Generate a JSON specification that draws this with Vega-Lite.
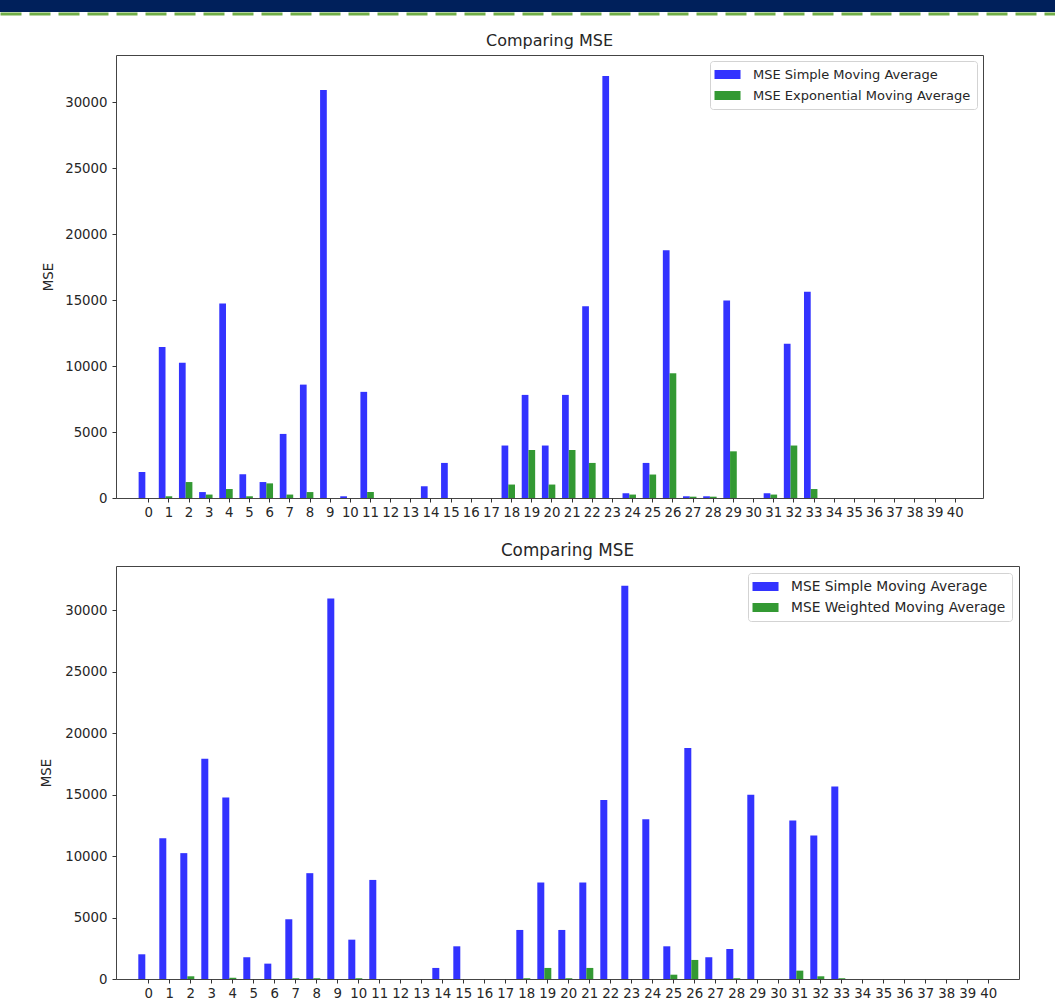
{
  "$schema": "https://vega.github.io/schema/vega-lite/v6.json",
  "padding": 0,
  "background": "white",
  "datasets": {
    "top": [
      {"t":0,"s":"MSE Simple Moving Average","v":1970},{"t":0,"s":"MSE Exponential Moving Average","v":0},
      {"t":1,"s":"MSE Simple Moving Average","v":11450},{"t":1,"s":"MSE Exponential Moving Average","v":130},
      {"t":2,"s":"MSE Simple Moving Average","v":10250},{"t":2,"s":"MSE Exponential Moving Average","v":1210},
      {"t":3,"s":"MSE Simple Moving Average","v":450},{"t":3,"s":"MSE Exponential Moving Average","v":260},
      {"t":4,"s":"MSE Simple Moving Average","v":14750},{"t":4,"s":"MSE Exponential Moving Average","v":680},
      {"t":5,"s":"MSE Simple Moving Average","v":1800},{"t":5,"s":"MSE Exponential Moving Average","v":130},
      {"t":6,"s":"MSE Simple Moving Average","v":1210},{"t":6,"s":"MSE Exponential Moving Average","v":1110},
      {"t":7,"s":"MSE Simple Moving Average","v":4860},{"t":7,"s":"MSE Exponential Moving Average","v":260},
      {"t":8,"s":"MSE Simple Moving Average","v":8600},{"t":8,"s":"MSE Exponential Moving Average","v":450},
      {"t":9,"s":"MSE Simple Moving Average","v":30950},{"t":9,"s":"MSE Exponential Moving Average","v":0},
      {"t":10,"s":"MSE Simple Moving Average","v":130},{"t":10,"s":"MSE Exponential Moving Average","v":0},
      {"t":11,"s":"MSE Simple Moving Average","v":8050},{"t":11,"s":"MSE Exponential Moving Average","v":450},
      {"t":12,"s":"MSE Simple Moving Average","v":0},{"t":12,"s":"MSE Exponential Moving Average","v":0},
      {"t":13,"s":"MSE Simple Moving Average","v":0},{"t":13,"s":"MSE Exponential Moving Average","v":0},
      {"t":14,"s":"MSE Simple Moving Average","v":890},{"t":14,"s":"MSE Exponential Moving Average","v":0},
      {"t":15,"s":"MSE Simple Moving Average","v":2660},{"t":15,"s":"MSE Exponential Moving Average","v":0},
      {"t":16,"s":"MSE Simple Moving Average","v":0},{"t":16,"s":"MSE Exponential Moving Average","v":0},
      {"t":17,"s":"MSE Simple Moving Average","v":0},{"t":17,"s":"MSE Exponential Moving Average","v":0},
      {"t":18,"s":"MSE Simple Moving Average","v":3980},{"t":18,"s":"MSE Exponential Moving Average","v":1020},
      {"t":19,"s":"MSE Simple Moving Average","v":7820},{"t":19,"s":"MSE Exponential Moving Average","v":3640},
      {"t":20,"s":"MSE Simple Moving Average","v":3980},{"t":20,"s":"MSE Exponential Moving Average","v":1020},
      {"t":21,"s":"MSE Simple Moving Average","v":7820},{"t":21,"s":"MSE Exponential Moving Average","v":3640},
      {"t":22,"s":"MSE Simple Moving Average","v":14550},{"t":22,"s":"MSE Exponential Moving Average","v":2660},
      {"t":23,"s":"MSE Simple Moving Average","v":32000},{"t":23,"s":"MSE Exponential Moving Average","v":0},
      {"t":24,"s":"MSE Simple Moving Average","v":360},{"t":24,"s":"MSE Exponential Moving Average","v":260},
      {"t":25,"s":"MSE Simple Moving Average","v":2660},{"t":25,"s":"MSE Exponential Moving Average","v":1780},
      {"t":26,"s":"MSE Simple Moving Average","v":18800},{"t":26,"s":"MSE Exponential Moving Average","v":9460},
      {"t":27,"s":"MSE Simple Moving Average","v":130},{"t":27,"s":"MSE Exponential Moving Average","v":100},
      {"t":28,"s":"MSE Simple Moving Average","v":130},{"t":28,"s":"MSE Exponential Moving Average","v":100},
      {"t":29,"s":"MSE Simple Moving Average","v":14980},{"t":29,"s":"MSE Exponential Moving Average","v":3540},
      {"t":30,"s":"MSE Simple Moving Average","v":0},{"t":30,"s":"MSE Exponential Moving Average","v":0},
      {"t":31,"s":"MSE Simple Moving Average","v":360},{"t":31,"s":"MSE Exponential Moving Average","v":260},
      {"t":32,"s":"MSE Simple Moving Average","v":11690},{"t":32,"s":"MSE Exponential Moving Average","v":3980},
      {"t":33,"s":"MSE Simple Moving Average","v":15640},{"t":33,"s":"MSE Exponential Moving Average","v":680},
      {"t":34,"s":"MSE Simple Moving Average","v":0},{"t":34,"s":"MSE Exponential Moving Average","v":0},
      {"t":35,"s":"MSE Simple Moving Average","v":0},{"t":35,"s":"MSE Exponential Moving Average","v":0},
      {"t":36,"s":"MSE Simple Moving Average","v":0},{"t":36,"s":"MSE Exponential Moving Average","v":0},
      {"t":37,"s":"MSE Simple Moving Average","v":0},{"t":37,"s":"MSE Exponential Moving Average","v":0},
      {"t":38,"s":"MSE Simple Moving Average","v":0},{"t":38,"s":"MSE Exponential Moving Average","v":0},
      {"t":39,"s":"MSE Simple Moving Average","v":0},{"t":39,"s":"MSE Exponential Moving Average","v":0},
      {"t":40,"s":"MSE Simple Moving Average","v":0},{"t":40,"s":"MSE Exponential Moving Average","v":0}
    ],
    "bottom": [
      {"t":0,"s":"MSE Simple Moving Average","v":2010},{"t":0,"s":"MSE Weighted Moving Average","v":0},
      {"t":1,"s":"MSE Simple Moving Average","v":11460},{"t":1,"s":"MSE Weighted Moving Average","v":0},
      {"t":2,"s":"MSE Simple Moving Average","v":10240},{"t":2,"s":"MSE Weighted Moving Average","v":220},
      {"t":3,"s":"MSE Simple Moving Average","v":17920},{"t":3,"s":"MSE Weighted Moving Average","v":0},
      {"t":4,"s":"MSE Simple Moving Average","v":14770},{"t":4,"s":"MSE Weighted Moving Average","v":100},
      {"t":5,"s":"MSE Simple Moving Average","v":1770},{"t":5,"s":"MSE Weighted Moving Average","v":0},
      {"t":6,"s":"MSE Simple Moving Average","v":1250},{"t":6,"s":"MSE Weighted Moving Average","v":0},
      {"t":7,"s":"MSE Simple Moving Average","v":4860},{"t":7,"s":"MSE Weighted Moving Average","v":60},
      {"t":8,"s":"MSE Simple Moving Average","v":8610},{"t":8,"s":"MSE Weighted Moving Average","v":60},
      {"t":9,"s":"MSE Simple Moving Average","v":30950},{"t":9,"s":"MSE Weighted Moving Average","v":0},
      {"t":10,"s":"MSE Simple Moving Average","v":3200},{"t":10,"s":"MSE Weighted Moving Average","v":60},
      {"t":11,"s":"MSE Simple Moving Average","v":8060},{"t":11,"s":"MSE Weighted Moving Average","v":0},
      {"t":12,"s":"MSE Simple Moving Average","v":0},{"t":12,"s":"MSE Weighted Moving Average","v":0},
      {"t":13,"s":"MSE Simple Moving Average","v":0},{"t":13,"s":"MSE Weighted Moving Average","v":0},
      {"t":14,"s":"MSE Simple Moving Average","v":900},{"t":14,"s":"MSE Weighted Moving Average","v":0},
      {"t":15,"s":"MSE Simple Moving Average","v":2660},{"t":15,"s":"MSE Weighted Moving Average","v":0},
      {"t":16,"s":"MSE Simple Moving Average","v":0},{"t":16,"s":"MSE Weighted Moving Average","v":0},
      {"t":17,"s":"MSE Simple Moving Average","v":0},{"t":17,"s":"MSE Weighted Moving Average","v":0},
      {"t":18,"s":"MSE Simple Moving Average","v":3990},{"t":18,"s":"MSE Weighted Moving Average","v":60},
      {"t":19,"s":"MSE Simple Moving Average","v":7850},{"t":19,"s":"MSE Weighted Moving Average","v":900},
      {"t":20,"s":"MSE Simple Moving Average","v":3990},{"t":20,"s":"MSE Weighted Moving Average","v":60},
      {"t":21,"s":"MSE Simple Moving Average","v":7850},{"t":21,"s":"MSE Weighted Moving Average","v":900},
      {"t":22,"s":"MSE Simple Moving Average","v":14560},{"t":22,"s":"MSE Weighted Moving Average","v":0},
      {"t":23,"s":"MSE Simple Moving Average","v":32000},{"t":23,"s":"MSE Weighted Moving Average","v":0},
      {"t":24,"s":"MSE Simple Moving Average","v":13000},{"t":24,"s":"MSE Weighted Moving Average","v":0},
      {"t":25,"s":"MSE Simple Moving Average","v":2660},{"t":25,"s":"MSE Weighted Moving Average","v":350},
      {"t":26,"s":"MSE Simple Moving Average","v":18800},{"t":26,"s":"MSE Weighted Moving Average","v":1550},
      {"t":27,"s":"MSE Simple Moving Average","v":1770},{"t":27,"s":"MSE Weighted Moving Average","v":0},
      {"t":28,"s":"MSE Simple Moving Average","v":2440},{"t":28,"s":"MSE Weighted Moving Average","v":60},
      {"t":29,"s":"MSE Simple Moving Average","v":14990},{"t":29,"s":"MSE Weighted Moving Average","v":0},
      {"t":30,"s":"MSE Simple Moving Average","v":0},{"t":30,"s":"MSE Weighted Moving Average","v":0},
      {"t":31,"s":"MSE Simple Moving Average","v":12900},{"t":31,"s":"MSE Weighted Moving Average","v":680},
      {"t":32,"s":"MSE Simple Moving Average","v":11670},{"t":32,"s":"MSE Weighted Moving Average","v":220},
      {"t":33,"s":"MSE Simple Moving Average","v":15670},{"t":33,"s":"MSE Weighted Moving Average","v":60},
      {"t":34,"s":"MSE Simple Moving Average","v":0},{"t":34,"s":"MSE Weighted Moving Average","v":0},
      {"t":35,"s":"MSE Simple Moving Average","v":0},{"t":35,"s":"MSE Weighted Moving Average","v":0},
      {"t":36,"s":"MSE Simple Moving Average","v":0},{"t":36,"s":"MSE Weighted Moving Average","v":0},
      {"t":37,"s":"MSE Simple Moving Average","v":0},{"t":37,"s":"MSE Weighted Moving Average","v":0},
      {"t":38,"s":"MSE Simple Moving Average","v":0},{"t":38,"s":"MSE Weighted Moving Average","v":0},
      {"t":39,"s":"MSE Simple Moving Average","v":0},{"t":39,"s":"MSE Weighted Moving Average","v":0},
      {"t":40,"s":"MSE Simple Moving Average","v":0},{"t":40,"s":"MSE Weighted Moving Average","v":0}
    ],
    "header": [{"h": 0}]
  },
  "columns": 2,
  "align": "each",
  "bounds": "flush",
  "spacing": {"row": 43, "column": 0},
  "concat": [
    {
      "data": {"name": "header"},
      "width": 116,
      "height": 12,
      "view": {"fill": "#00205b", "stroke": null},
      "mark": {"type": "text", "text": ""},
      "encoding": {
        "x": {"datum": 0, "type": "quantitative",
          "axis": {"orient": "bottom", "title": null, "labels": false, "ticks": false, "grid": false,
                   "domain": true, "domainColor": "#70ad47", "domainWidth": 3, "domainDash": [21, 8], "offset": 1.5}}
      }
    },
    {
      "data": {"name": "header"},
      "width": 939,
      "height": 12,
      "view": {"fill": "#00205b", "stroke": null},
      "mark": {"type": "text", "text": ""},
      "encoding": {
        "x": {"datum": 0, "type": "quantitative",
          "axis": {"orient": "bottom", "title": null, "labels": false, "ticks": false, "grid": false,
                   "domain": true, "domainColor": "#70ad47", "domainWidth": 3, "domainDash": [21, 8], "offset": 1.5}}
      }
    },
    {
      "data": {"name": "header"},
      "width": 1,
      "height": 1,
      "view": {"stroke": null},
      "mark": {"type": "text", "text": ""}
    },
    {
      "columns": 1,
      "spacing": 23,
      "bounds": "full",
      "resolve": {"scale": {"color": "independent", "xOffset": "independent", "x": "independent", "y": "independent"}, "legend": {"color": "independent"}},
      "concat": [
        {
          "data": {"name": "top"},
          "width": 867,
          "height": 443,
          "title": {"text": "Comparing MSE"},
          "encoding": {
            "x": {"field": "t", "type": "ordinal",
              "scale": {"domain": [0,1,2,3,4,5,6,7,8,9,10,11,12,13,14,15,16,17,18,19,20,21,22,23,24,25,26,27,28,29,30,31,32,33,34,35,36,37,38,39,40],
                        "paddingInner": 0, "paddingOuter": 1.89, "align": 0.561},
              "axis": {"title": null, "labelAngle": 0, "tickSize": 4, "labelPadding": 3, "labelOverlap": false}},
            "xOffset": {"field": "s",
              "scale": {"domain": ["MSE Simple Moving Average", "MSE Exponential Moving Average", "_"], "paddingInner": 0, "paddingOuter": 0}},
            "color": {"field": "s", "type": "nominal",
              "scale": {"domain": ["MSE Simple Moving Average", "MSE Exponential Moving Average"], "range": ["#3333ff", "#339933"]},
              "legend": {"title": null}},
            "y": {"field": "v", "type": "quantitative", "title": "MSE",
              "scale": {"domain": [0, 33600], "nice": false},
              "axis": {"values": [0,5000,10000,15000,20000,25000,30000], "format": "d", "tickSize": 4, "labelPadding": 5, "titlePadding": 9}}
          },
          "mark": "bar"
        },
        {
          "data": {"name": "bottom"},
          "width": 903,
          "height": 413,
          "title": {"text": "Comparing MSE", "fontSize": 16.8},
          "encoding": {
            "x": {"field": "t", "type": "ordinal",
              "scale": {"domain": [0,1,2,3,4,5,6,7,8,9,10,11,12,13,14,15,16,17,18,19,20,21,22,23,24,25,26,27,28,29,30,31,32,33,34,35,36,37,38,39,40],
                        "paddingInner": 0, "paddingOuter": 1.8975, "align": 0.531},
              "axis": {"title": null, "labelAngle": 0, "tickSize": 4, "labelPadding": 3, "labelOverlap": false}},
            "xOffset": {"field": "s",
              "scale": {"domain": ["MSE Simple Moving Average", "MSE Weighted Moving Average", "_"], "paddingInner": 0, "paddingOuter": 0}},
            "color": {"field": "s", "type": "nominal",
              "scale": {"domain": ["MSE Simple Moving Average", "MSE Weighted Moving Average"], "range": ["#3333ff", "#339933"]},
              "legend": {"title": null, "labelFontSize": 13.8, "offset": 7}},
            "y": {"field": "v", "type": "quantitative", "title": "MSE",
              "scale": {"domain": [0, 33600], "nice": false},
              "axis": {"values": [0,5000,10000,15000,20000,25000,30000], "format": "d", "tickSize": 4, "labelPadding": 5, "titlePadding": 11}}
          },
          "mark": "bar"
        }
      ]
    }
  ],
  "resolve": {"scale": {"x": "independent"}},
  "config": {
    "font": "DejaVu Sans",
    "view": {"stroke": "#444444", "strokeWidth": 1},
    "axis": {"labelFont": "DejaVu Sans", "labelFontSize": 13.3, "labelColor": "#262626", "tickColor": "#333333",
             "titleFont": "DejaVu Sans", "titleFontSize": 13.3, "titleFontWeight": "normal", "titleColor": "#262626",
             "grid": false, "domain": false},
    "title": {"font": "DejaVu Sans", "fontSize": 16, "fontWeight": "normal", "color": "#262626", "offset": 6, "frame": "group"},
    "legend": {"orient": "top-right", "offset": 6, "padding": 6, "symbolType": "M-1.2,-0.6H2.27V0.6H-1.2Z", "symbolSize": 225,
               "symbolStrokeWidth": 0, "symbolOpacity": 1, "labelOffset": 22, "rowPadding": 6,
               "labelFont": "DejaVu Sans", "labelFontSize": 13, "labelColor": "#262626", "labelLimit": 400,
               "strokeColor": "#d3d3d3", "fillColor": "white", "cornerRadius": 3}
  }
}
